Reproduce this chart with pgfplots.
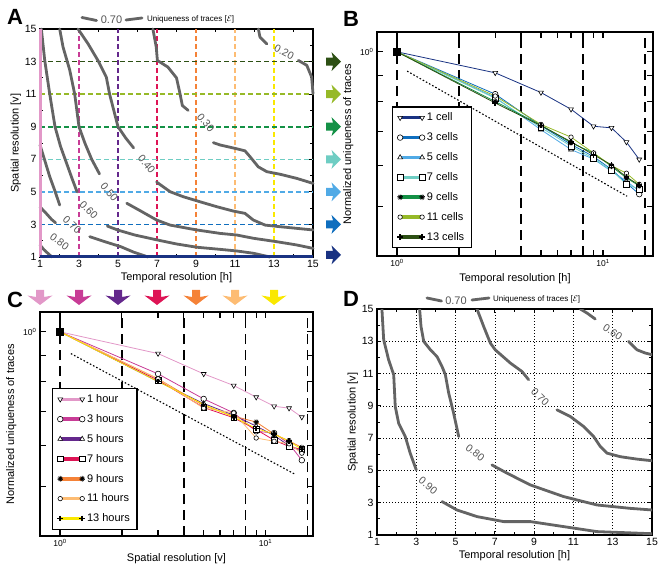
\documentclass[border=0pt]{standalone}
\usepackage{fontspec}
\setmainfont{Liberation Sans}
\usepackage{pgfplots}
\pgfplotsset{compat=1.18}
\usetikzlibrary{plotmarks}

% colours of the selected rows (spatial) and columns (temporal)
\definecolor{pinkL}{RGB}{226,152,200}
\definecolor{magC}{RGB}{200,60,150}
\definecolor{purC}{RGB}{100,40,140}
\definecolor{crimC}{RGB}{222,20,85}
\definecolor{oraC}{RGB}{245,130,55}
\definecolor{loraC}{RGB}{253,188,115}
\definecolor{yelC}{RGB}{250,232,0}
\definecolor{navyC}{RGB}{25,50,130}
\definecolor{blueC}{RGB}{15,110,190}
\definecolor{lblueC}{RGB}{80,170,230}
\definecolor{tealC}{RGB}{110,205,195}
\definecolor{greenC}{RGB}{20,145,70}
\definecolor{ygreenC}{RGB}{150,185,40}
\definecolor{dgreenC}{RGB}{45,80,20}
\definecolor{contC}{RGB}{100,100,100}
\definecolor{clabC}{RGB}{85,85,85}

\tikzset{
  clab/.style={font=\fontsize{10.5}{11}\selectfont, text=clabC, inner sep=0pt},
  cont/.style={contC, line width=2.8pt, line join=round, line cap=round},
}
\pgfplotsset{
  panel/.style={scale only axis, anchor=south west,
    axis line style={line width=1.5pt}, tick align=inside,
    tick style={black, line width=0.9pt}, major tick length=4pt, minor tick length=3pt,
    ticklabel style={font=\fontsize{10.5}{11}\selectfont},
    label style={font=\fontsize{11}{12}\selectfont},
    /pgf/number format/assume math mode=true},
  hdash/.style={line width=1.3pt, dash pattern=on 5pt off 3pt},
  ser/.style={line width=0.8pt, mark size=2.8pt},
  mk/.style={mark options={solid, draw=black, fill=white, line width=0.6pt, #1}},
  mk/.default={},
  logpanel/.style={panel,
    ymin=0.4, ymax=1.093,
    ticklabel style={font=\fontsize{8.5}{9}\selectfont},
    xtick={1,10}, xticklabels={10\textsuperscript{0},10\textsuperscript{1}},
    ytick={1}, yticklabels={10\textsuperscript{0}},
    minor xtick={2,3,4,5,6,7,8,9}, minor ytick={0.5,0.6,0.7,0.8,0.9},
    major tick length=6pt, minor tick length=6pt, tick style={line width=1.3pt},
    extra x ticks={1,2,4,8,16}, extra x tick labels={},
    extra x tick style={xmajorgrids=true, major tick length=0pt,
      major grid style={black, line width=1.5pt, dash pattern=on 10pt off 6pt}},
    ylabel={Normalized uniqueness of traces},
    legend cell align=left,
    legend style={anchor=south west, draw=black, line width=1.4pt, fill=white,
      font=\fontsize{11}{12}\selectfont, row sep=6.4pt, inner xsep=5pt, inner ysep=4pt},
    legend image code/.code={
      \draw[##1, line width=3.5pt] (0pt,0pt) -- (22pt,0pt);
      \draw[##1, only marks, mark repeat=2] plot coordinates {(0pt,0pt) (11pt,0pt) (22pt,0pt)};
    }},
}

\begin{document}
\begin{tikzpicture}
\useasboundingbox (0,0) rectangle (662pt,568pt);

% ================= A: uniqueness contours, selected rows and columns =================
\begin{axis}[panel, clip=false, at={(40pt,311pt)}, width=273pt, height=228pt,
  xmin=1, xmax=15, ymin=1, ymax=15,
  xtick={1,3,...,15}, ytick={1,3,...,15},
  minor xtick={2,4,...,14}, minor ytick={2,4,...,14},
  xlabel={Temporal resolution [h]}, ylabel={Spatial resolution [v]},
  xlabel style={yshift=2pt}, ylabel style={yshift=-3pt}]
  % temporal columns
  \addplot[magC, hdash] coordinates {(3,1) (3,15)};
  \addplot[purC, hdash] coordinates {(5,1) (5,15)};
  \addplot[crimC, hdash] coordinates {(7,1) (7,15)};
  \addplot[oraC, hdash] coordinates {(9,1) (9,15)};
  \addplot[loraC, hdash] coordinates {(11,1) (11,15)};
  \addplot[yelC, hdash] coordinates {(13,1) (13,15)};
  % spatial rows
  \addplot[dgreenC, hdash] coordinates {(1,13) (15,13)};
  \addplot[ygreenC, hdash, line width=1.6pt] coordinates {(1,11) (15,11)};
  \addplot[greenC, hdash, line width=1.6pt] coordinates {(1,9) (15,9)};
  \addplot[tealC, hdash] coordinates {(1,7) (15,7)};
  \addplot[lblueC, hdash] coordinates {(1,5) (15,5)};
  \addplot[blueC, hdash] coordinates {(1,3) (15,3)};
  % contour levels
  \addplot[cont] coordinates {(1,1.74) (1.2,1.45) (1.5,1.12) (1.62,1)};
  \addplot[cont] coordinates {(1,4.08) (1.3,3.7) (1.6,3.3) (1.8,3.1)};
  \addplot[cont] coordinates {(1,7.88) (1.24,6.95) (1.5,5.93) (1.75,5.11) (2.01,4.19)};
  \addplot[cont] coordinates {(3.55,2.25) (4.3,1.95) (5.15,1.63) (5.8,1.3) (6.54,1.0)};
  \addplot[cont] coordinates {(1.07,15) (1.24,13.1) (1.5,11.0) (1.77,9.0) (2.05,7.8) (2.35,6.8) (2.65,5.8) (2.9,5.0)};
  \addplot[cont] coordinates {(4.45,2.9) (5.0,2.65) (5.86,2.35) (7.0,2.05) (8.0,1.8) (9.04,1.6) (10.23,1.47) (11.09,1.37) (11.94,1.23) (12.8,1.0)};
  \addplot[cont] coordinates {(2.01,15) (2.18,13.9) (2.52,12.5) (2.78,11.0) (3.0,9.0) (3.3,8.0) (3.65,7.0) (4.05,6.1)};
  \addplot[cont] coordinates {(5.45,4.3) (6.2,3.8) (6.98,3.27) (7.67,2.96) (9.04,2.66) (10.23,2.45) (11.09,2.35) (11.94,2.15) (13.14,1.94) (14.16,1.74) (15,1.53)};
  \addplot[cont] coordinates {(2.95,15) (3.46,14.1) (3.97,13.07) (4.4,12.05) (4.57,11.0) (5.0,9.0) (5.4,8.3) (5.8,7.7)};
  \addplot[cont] coordinates {(6.98,5.6) (7.67,5.01) (8.35,4.7) (9.21,4.39) (10.06,4.09) (10.91,3.82) (11.51,3.68) (11.94,3.27) (12.54,2.96) (13.31,2.86) (14.16,2.76) (15,2.66)};
  \addplot[cont] coordinates {(6.79,15) (6.96,13.9) (7.02,13.07) (7.56,12.66) (8.0,12.0) (8.18,11.03) (8.3,10.3) (8.6,10.0)};
  \addplot[cont] coordinates {(9.89,8.02) (10.23,7.88) (11.0,7.67) (11.51,7.52) (11.77,7.16) (12.19,6.54) (12.63,6.24) (13.31,6.08) (14.16,5.83) (15,5.52)};
  \addplot[cont] coordinates {(12.2,15) (12.28,14.5) (12.63,14.09)};
  \addplot[cont] coordinates {(14.25,13.07) (14.68,12.77) (14.93,12.05) (15,11.03)};
  \node[clab, rotate=-37] at (axis cs:2.0,1.95) {0.80};
  \node[clab, rotate=-43] at (axis cs:2.65,2.95) {0.70};
  \node[clab, rotate=-45] at (axis cs:3.5,3.9) {0.60};
  \node[clab, rotate=-50] at (axis cs:4.55,5.0) {0.50};
  \node[clab, rotate=-51] at (axis cs:6.47,6.7) {0.40};
  \node[clab, rotate=-50] at (axis cs:9.5,9.25) {0.30};
  \node[clab, rotate=-28] at (axis cs:13.52,13.56) {0.20};
\end{axis}
% first column and first row, laid over the frame of A
\begin{axis}[scale only axis, anchor=south west, at={(40pt,311pt)}, width=273pt, height=228pt,
  xmin=1, xmax=15, ymin=1, ymax=15, hide axis, clip=false]
  \addplot[pinkL, line width=3pt] coordinates {(1,1) (1,15)};
  \addplot[navyC, line width=3pt] coordinates {(1,1) (15,1)};
\end{axis}

% ================= B: fixed spatial resolution =================
\begin{loglogaxis}[logpanel, at={(377pt,312pt)}, width=276pt, height=224pt,
  xmin=0.8, xmax=17.5, xlabel={Temporal resolution [h]},
  legend style={at={(0.053,0.034)}}]
  \addplot[navyC, ser, mark=triangle*, mk={rotate=180}] coordinates {(1,1.0) (3,0.910) (5,0.833) (7,0.773) (9,0.716) (11,0.711) (13,0.667) (15,0.617)};
  \addlegendentry{1 cell}
  \addplot[blueC, ser, mark=*, mk] coordinates {(1,1.0) (3,0.827) (5,0.718) (7,0.660) (9,0.625) (11,0.590) (13,0.555) (15,0.528)};
  \addlegendentry{3 cells}
  \addplot[lblueC, ser, mark=triangle*, mk] coordinates {(1,1.0) (3,0.815) (5,0.705) (7,0.645) (9,0.618) (11,0.585) (13,0.560) (15,0.535)};
  \addlegendentry{5 cells}
  \addplot[tealC, ser, mark=square*, mk] coordinates {(1,1.0) (3,0.812) (5,0.712) (7,0.655) (9,0.620) (11,0.588) (13,0.552) (15,0.540)};
  \addlegendentry{7 cells}
  \addplot[greenC, ser, mark=10-pointed star, mk={fill=black}] coordinates {(1,1.0) (3,0.800) (5,0.720) (7,0.665) (9,0.635) (11,0.598) (13,0.568) (15,0.548)};
  \addlegendentry{9 cells}
  \addplot[ygreenC, ser, mark=*, mk={scale=0.8}] coordinates {(1,1.0) (3,0.820) (5,0.722) (7,0.682) (9,0.635) (11,0.600) (13,0.580) (15,0.552)};
  \addlegendentry{11 cells}
  \addplot[dgreenC, ser, mark=+, mk={line width=1.6pt}] coordinates {(1,1.0) (3,0.795) (5,0.718) (7,0.668) (9,0.630) (11,0.602) (13,0.570) (15,0.550)};
  \addlegendentry{13 cells}
  \addplot[forget plot, only marks, mark=square*, mark size=3.6pt, black] coordinates {(1,1.0)};
  \addplot[forget plot, black, line width=1.1pt, dash pattern=on 1.6pt off 2pt] coordinates {(1.12,0.917) (13.1,0.523)};
\end{loglogaxis}

% ================= C: fixed temporal resolution =================
\begin{loglogaxis}[logpanel, at={(40pt,32pt)}, width=273pt, height=224pt,
  xmin=0.8, xmax=17, xlabel={Spatial resolution [v]},
  legend style={at={(0.043,0.027)}}]
  \addplot[pinkL, ser, mark=triangle*, mk={rotate=180}] coordinates {(1,1.0) (3,0.907) (5,0.828) (7,0.786) (9,0.746) (11,0.716) (13,0.710) (15,0.682)};
  \addlegendentry{1 hour}
  \addplot[magC, ser, mark=*, mk] coordinates {(1,1.0) (3,0.828) (5,0.740) (7,0.695) (9,0.640) (11,0.635) (13,0.605) (15,0.562)};
  \addlegendentry{3 hours}
  \addplot[purC, ser, mark=triangle*, mk] coordinates {(1,1.0) (3,0.800) (5,0.725) (7,0.688) (9,0.655) (11,0.628) (13,0.600) (15,0.585)};
  \addlegendentry{5 hours}
  \addplot[crimC, ser, mark=square*, mk] coordinates {(1,1.0) (3,0.805) (5,0.712) (7,0.680) (9,0.645) (11,0.615) (13,0.598) (15,0.590)};
  \addlegendentry{7 hours}
  \addplot[oraC, ser, mark=10-pointed star, mk={fill=black}] coordinates {(1,1.0) (3,0.810) (5,0.718) (7,0.685) (9,0.667) (11,0.632) (13,0.613) (15,0.595)};
  \addlegendentry{9 hours}
  \addplot[loraC, ser, mark=*, mk={scale=0.8}] coordinates {(1,1.0) (3,0.810) (5,0.710) (7,0.695) (9,0.621) (11,0.612) (13,0.605) (15,0.580)};
  \addlegendentry{11 hours}
  \addplot[yelC, ser, mark=+, mk={line width=1.6pt}] coordinates {(1,1.0) (3,0.800) (5,0.722) (7,0.682) (9,0.648) (11,0.632) (13,0.612) (15,0.590)};
  \addlegendentry{13 hours}
  \addplot[forget plot, only marks, mark=square*, mark size=3.6pt, black] coordinates {(1,1.0)};
  \addplot[forget plot, black, line width=1.1pt, dash pattern=on 1.6pt off 2pt] coordinates {(1.13,0.907) (14.0,0.527)};
\end{loglogaxis}

% ================= D: uniqueness contours (second data set) =================
\begin{axis}[panel, at={(377pt,33pt)}, width=275pt, height=226pt,
  xmin=1, xmax=15, ymin=1, ymax=15,
  xtick={1,3,...,15}, ytick={1,3,...,15},
  minor xtick={2,4,...,14}, minor ytick={2,4,...,14},
  grid=major, major grid style={black, line width=0.6pt, dash pattern=on 1.2pt off 1.8pt},
  xlabel={Temporal resolution [h]}, ylabel={Spatial resolution [v]},
  xlabel style={yshift=2pt}, ylabel style={yshift=-3pt}]
  \addplot[cont] coordinates {(1.25,15) (1.34,13.1) (1.59,11.86) (1.85,10.93) (1.93,8.96) (2.1,7.93) (2.44,7.1) (2.69,6.07) (3.0,5.03)};
  \addplot[cont] coordinates {(4.31,3.07) (5.07,2.55) (6.09,2.14) (7.45,1.83) (8.81,1.83) (10.5,1.52) (12.2,1.21) (15,1.08)};
  \addplot[cont] coordinates {(3.17,15) (3.24,13.92) (3.38,12.99) (3.72,12.47) (4.05,12.06) (4.31,11.44) (4.48,10.93) (4.65,9.79) (4.9,8.55) (5.16,7.1)};
  \addplot[cont] coordinates {(6.85,5.34) (7.62,4.83) (8.81,4.1) (10.5,3.38) (12.2,2.86) (13.9,2.65) (15,2.55)};
  \addplot[cont] coordinates {(6.09,15) (6.43,13.92) (6.77,12.89) (7.02,12.47) (7.79,11.65) (8.38,11.13) (8.72,10.62)};
  \addplot[cont] coordinates {(10.16,8.75) (10.84,8.34) (11.52,7.72) (12.03,7.1) (12.37,6.48) (12.71,6.07) (13.39,5.85) (14.24,5.7) (15,5.6)};
  \addplot[cont] coordinates {(11.35,15) (11.69,14.75) (12.11,14.38)};
  \addplot[cont] coordinates {(13.81,12.99) (14.24,12.47) (14.66,12.27) (15,12.17)};
  \node[clab, rotate=-40] at (axis cs:3.6,4.05) {0.90};
  \node[clab, rotate=-38] at (axis cs:6.0,6.1) {0.80};
  \node[clab, rotate=-45] at (axis cs:9.3,9.55) {0.70};
  \node[clab, rotate=-34] at (axis cs:13.0,13.55) {0.60};
\end{axis}

% ================= panel letters, contour keys and selection arrows =================
\begin{scope}[x=1pt, y=1pt]
  \foreach \L/\px/\py in {A/7/543, B/343/541, C/7/260, D/343/261}
    \node[anchor=base west, inner sep=0pt, font=\bfseries\fontsize{22}{22}\selectfont] at (\px,\py) {\L};

  % contour key above A
  \draw[contC, line width=2.8pt, line cap=round] (82,550.5) -- (96.5,547.5);
  \node[clab, font=\fontsize{11}{12}\selectfont] at (111.5,548.5) {0.70};
  \draw[contC, line width=2.8pt, line cap=round] (126,548) -- (142,550);
  \node[anchor=west, inner sep=0pt, font=\fontsize{8}{9}\selectfont] at (147,549) {Uniqueness of traces [$\mathcal{E}$]};

  % contour key above D
  \draw[contC, line width=2.8pt, line cap=round] (427,270) -- (441.5,267);
  \node[clab, font=\fontsize{11}{12}\selectfont] at (456,267.5) {0.70};
  \draw[contC, line width=2.8pt, line cap=round] (472,268) -- (489,270);
  \node[anchor=west, inner sep=0pt, font=\fontsize{8}{9}\selectfont] at (493,268.5) {Uniqueness of traces [$\mathcal{E}$]};

  % arrows marking the rows of A shown in B
  \foreach \yy/\cc in {506.4/dgreenC, 473.9/ygreenC, 441.3/greenC, 408.7/tealC, 376.1/lblueC, 343.6/blueC, 313/navyC}
    \fill[\cc, shift={(326,\yy)}] (0,-4) -- (7,-4) -- (5.5,-9.5) -- (15,0) -- (5.5,9.5) -- (7,4) -- (0,4) -- cycle;

  % arrows marking the columns of A shown in C
  \foreach \xx/\cc in {40/pinkL, 79/magC, 118/purC, 157/crimC, 196/oraC, 235/loraC, 274/yelC}
    \fill[\cc, shift={(\xx,278)}] (-4,0) -- (-4,-7) -- (-12.5,-5.5) -- (0,-15) -- (12.5,-5.5) -- (4,-7) -- (4,0) -- cycle;
\end{scope}
\end{tikzpicture}
\end{document}
